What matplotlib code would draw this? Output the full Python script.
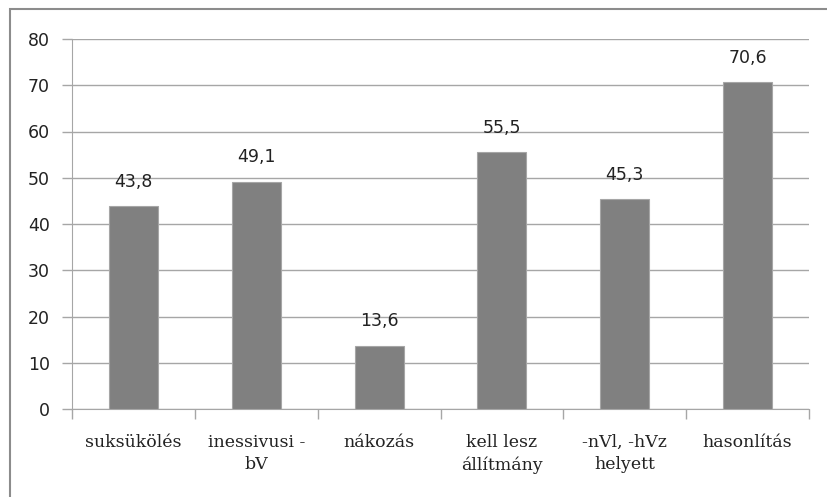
import matplotlib
matplotlib.use("Agg")
import matplotlib.pyplot as plt
from matplotlib.patches import Rectangle
import numpy as np

categories = ["suksükölés", "inessivusi -\nbV", "nákozás", "kell lesz\nállítmány",
              "-nVl, -hVz\nhelyett", "hasonlítás"]
values = [43.8, 49.1, 13.6, 55.5, 45.3, 70.6]
yticks = [0, 10, 20, 30, 40, 50, 60, 70, 80]

W, H = 827, 497
fig = plt.figure(figsize=(W / 100, H / 100), dpi=100)

# outer chart border (right and bottom edges fall outside the picture)
fig.patches.append(Rectangle((10 / W, -0.1), 1.2, 1.1 - 9 / H, transform=fig.transFigure,
                             fill=False, edgecolor="#8c8c8c", linewidth=1.5))

ax = fig.add_axes([72 / W, 1 - 409 / H, (809 - 72) / W, (409 - 39) / H])
x = np.arange(len(categories))
bars = ax.bar(x, values, width=0.4, color="#808080", edgecolor="#a6a6a6",
              linewidth=0.8, zorder=3)

for b, v in zip(bars, values):
    ax.text(b.get_x() + b.get_width() / 2, v + 3.4, f"{v:.1f}".replace(".", ","),
            ha="center", va="bottom", fontsize=12.5, color="#222222",
            family="DejaVu Sans")

ax.set_xlim(-0.5, len(categories) - 0.5)
ax.set_ylim(0, 80)
ax.set_yticks(yticks)
ax.set_yticklabels([str(t) for t in yticks], fontsize=12.5, color="#222222")
ax.yaxis.grid(True, color="#a6a6a6", linewidth=1.0, zorder=0)

ax.set_xticks(np.arange(-0.5, len(categories), 1.0))
ax.set_xticklabels([])
ax.tick_params(axis="x", length=7, color="#a6a6a6", width=1)
ax.tick_params(axis="y", length=7, color="#a6a6a6", width=1, pad=9)

for i, lab in enumerate(categories):
    ax.text(i, -5.3, lab, ha="center", va="top", fontsize=12.5,
            family="DejaVu Serif", color="#222222", linespacing=1.45,
            transform=ax.transData)

for side in ["top", "right"]:
    ax.spines[side].set_visible(False)
for side in ["left", "bottom"]:
    ax.spines[side].set_color("#a6a6a6")

fig.savefig("out.png", dpi=100)
